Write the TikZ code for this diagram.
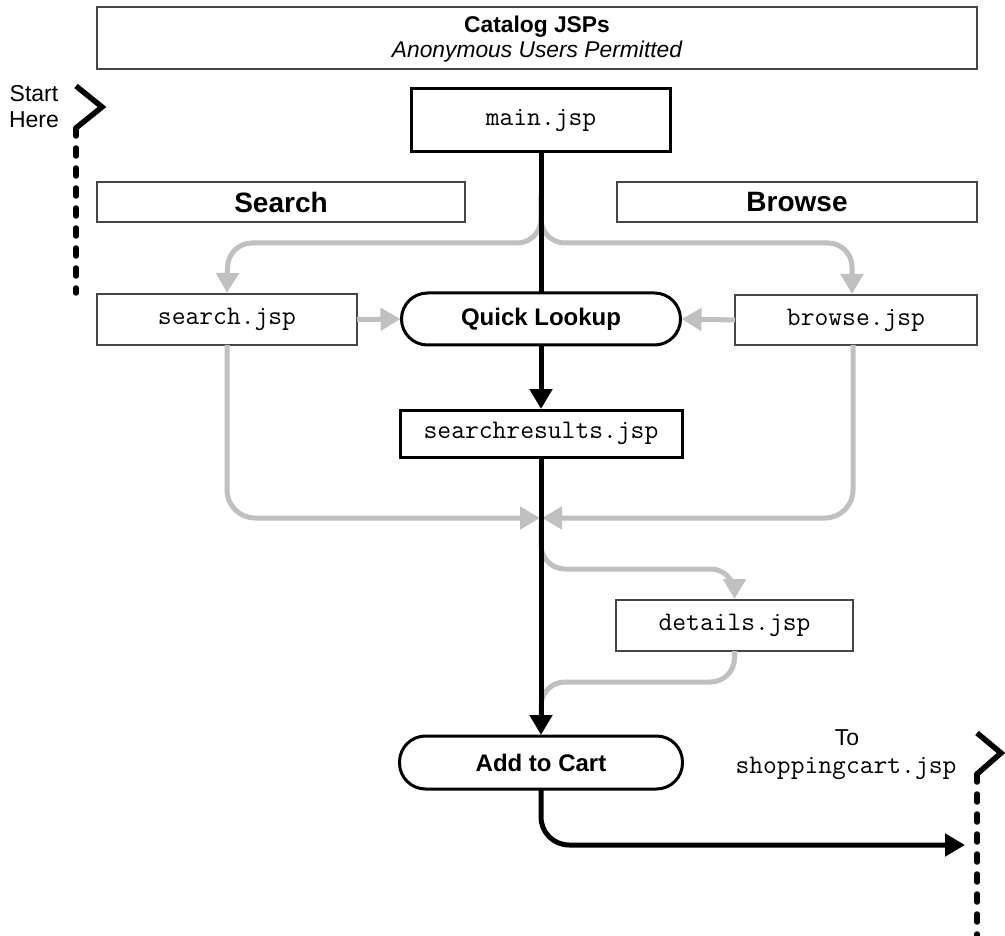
\documentclass[tikz,border=0pt]{standalone}
\usepackage{fontspec}
\setmainfont{Liberation Sans}
\usetikzlibrary{arrows.meta}
\definecolor{altgray}{RGB}{192,192,192}
\definecolor{boxgray}{RGB}{70,70,70}
\newcommand\setfs[1]{\fontsize{#1}{#1}\selectfont}
\begin{document}
\begin{tikzpicture}[x=1pt,y=-1pt,
  thinbox/.style={draw=boxgray,line width=1.5pt,fill=white,inner sep=0pt,outer sep=0pt},
  thickbox/.style={draw=black,line width=3pt,fill=white,inner sep=0pt,outer sep=0pt},
  pill/.style={thickbox,rounded corners=26pt},
  mono/.style={font=\ttfamily\setfs{26.8}},
  heading/.style={font=\bfseries\setfs{28}},
  pilltext/.style={font=\bfseries\setfs{24}},
  plain/.style={font=\setfs{23}},
  flow/.style={line width=5pt,draw=black},
  alt/.style={line width=5pt,draw=altgray},
  tipb/.style={-{Triangle[length=20pt,width=22pt]},shorten >=1pt},
  chevron/.style={line width=5.5pt,line join=miter},
  dashline/.style={line width=5.5pt,line cap=round,dash pattern=on 8pt off 12pt},
]
\useasboundingbox (0,0) rectangle (1005,936);
\fill[white] (0,0) rectangle (1005,936);

% boxes
\node[thinbox,minimum width=880pt,minimum height=62pt] (title) at (537,38) {};
\node[anchor=base,font=\bfseries\setfs{22.8}] (titletext) at (537,33) {Catalog JSPs};
\node[anchor=base,font=\itshape\setfs{22.8}] (subtitle) at (537,57.5) {Anonymous Users Permitted};

\node[thickbox,minimum width=259pt,minimum height=63pt,mono] (main) at (541,120.5) {main.jsp};
\node[thinbox,minimum width=368pt,minimum height=40pt,heading] (searchlbl) at (281,202) {Search};
\node[thinbox,minimum width=360pt,minimum height=40pt,heading] (browselbl) at (797,202) {Browse};

\node[thinbox,minimum width=260pt,minimum height=51pt,mono] (searchjsp) at (227,319.5) {search.jsp};
\node[pill,minimum width=279pt,minimum height=52pt,pilltext] (quick) at (541,319) {Quick Lookup};
\node[thinbox,minimum width=242pt,minimum height=50pt,mono] (browsejsp) at (856,320) {browse.jsp};

\node[thickbox,minimum width=282pt,minimum height=47pt,mono] (results) at (541,433.5) {searchresults.jsp};
\node[thinbox,minimum width=237pt,minimum height=51pt,mono] (details) at (734.5,625.5) {details.jsp};
\node[pill,minimum width=283pt,minimum height=53pt,pilltext] (cart) at (541,762.5) {Add to Cart};

% labels
\node[anchor=base,plain] (start1) at (34,102) {Start};
\node[anchor=base,plain] (start2) at (34,128) {Here};
\node[anchor=base,plain] (to) at (847,745) {To};
\node[anchor=base,mono] (tocart) at (846,773) {shoppingcart.jsp};

% coordinates
\coordinate (split) at (541,195);
\coordinate (merge) at (541,518);
\coordinate (dsplit) at (541,522);
\coordinate (djoin) at (541,728);
\coordinate (cartend) at (966,845);

% grey connectors
\draw[alt,tipb,rounded corners=24pt] (split) -- (541,243) -- (228,243) -- (searchjsp.north);
\draw[alt,tipb,rounded corners=24pt] (split) -- (541,243) -- (852,243) -- ([xshift=-4pt]browsejsp.north);
\draw[alt,tipb] (searchjsp.east) -- (quick.west);
\draw[alt,tipb] (browsejsp.west) -- (quick.east);
\draw[alt,tipb,rounded corners=28pt] (searchjsp.south) -- (227,518) -- (merge);
\draw[alt,tipb,rounded corners=28pt] ([xshift=-3pt]browsejsp.south) -- (853,518) -- (merge);
\draw[alt,tipb,rounded corners=24pt] (dsplit) -- (541,569) -- (734.5,569) -- (details.north);
\draw[alt,rounded corners=24pt] (details.south) -- (734.5,682) -- (541,682) -- (djoin);

% black flow
\draw[flow] (main.south) -- (quick.north);
\draw[flow,tipb] (quick.south) -- (results.north);
\draw[flow,tipb] (results.south) -- (cart.north);
\draw[flow,tipb,rounded corners=28pt] (cart.south) -- (541,845) -- (cartend);

% start marker
\coordinate (sa) at (76,86);
\coordinate (sb) at (102,107);
\coordinate (sc) at (76,128);
\coordinate (sd) at (76,293);
\draw[chevron] (sa) -- (sb) -- (sc);
\draw[dashline] (sc) -- (sd);

% exit marker
\coordinate (ea) at (977,733);
\coordinate (eb) at (1001,753);
\coordinate (ec) at (977,774);
\coordinate (ed) at (977,940);
\draw[chevron] (ea) -- (eb) -- (ec);
\draw[dashline] (ec) -- (ed);
\end{tikzpicture}
\end{document}
